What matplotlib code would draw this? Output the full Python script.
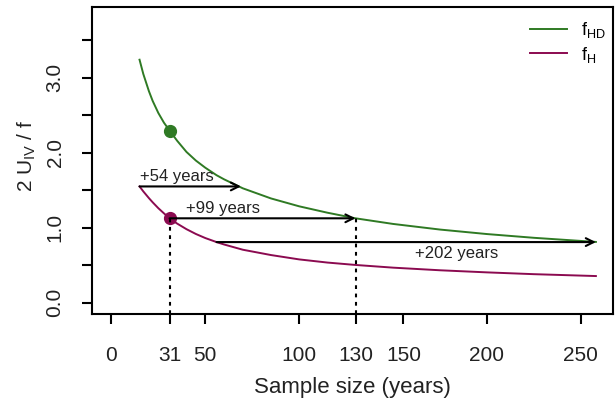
import numpy as np
import matplotlib.pyplot as plt

plt.rcParams['font.family'] = ['Liberation Sans', 'DejaVu Sans']

# values
n_years = [15, 17, 20, 22, 25, 28, 31, 35, 40, 45, 50, 56, 60, 70, 85, 100, 115, 130, 150, 175, 200, 225, 258]
f_hd = [3.24, 3.05, 2.82, 2.69, 2.53, 2.40, 2.295, 2.16, 2.01, 1.895, 1.80, 1.70, 1.645, 1.525, 1.39, 1.285, 1.20, 1.125, 1.05, 0.975, 0.915, 0.865, 0.81]
f_h = [1.55, 1.484, 1.394, 1.338, 1.26, 1.191, 1.125, 1.055, 0.98, 0.916, 0.862, 0.808, 0.776, 0.706, 0.635, 0.577, 0.535, 0.503, 0.467, 0.432, 0.404, 0.38, 0.355]

# highlighted sample size and the three "extra years" arrows
n_mark = 31
hd_mark = 2.295
h_mark = 1.125
arrows = [(15, 69, 1.55, '+54 years'),
          (31, 130, 1.125, '+99 years'),
          (56, 258, 0.808, '+202 years')]
dotted_x = [31, 130]
dotted_top = [1.125, 1.125]

# the "150" tick sits a little right of 150 in the source figure
xtick_pos = [0, 31, 50, 100, 130, 155.5, 200, 250]
xtick_lab = ['0', '31', '50', '100', '130', '150', '200', '250']
yticks = [0, 0.5, 1.0, 1.5, 2.0, 2.5, 3.0, 3.5]
ylab_pos = [0.0, 1.0, 2.0, 3.0]
ylab_txt = ['0.0', '1.0', '2.0', '3.0']

green = '#2f7a24'
red = '#8b0a50'
txt = '#222222'

fig = plt.figure(figsize=(6.16, 3.99), dpi=100)
ax = fig.add_axes([0.1494, 0.2123, 0.8457, 0.7709])

ax.plot(n_years, f_hd, color=green, lw=1.4, label=r'f$\mathregular{_{HD}}$')
ax.plot(n_years, f_h, color=red, lw=1.4, label=r'f$\mathregular{_{H}}$')
ax.plot(n_mark, hd_mark, 'o', color=green, ms=8.5)
ax.plot(n_mark, h_mark, 'o', color=red, ms=8.5)

ymin = -0.155
for x0, top in zip(dotted_x, dotted_top):
    ax.plot([x0, x0], [ymin, top], color='black', lw=1.5, dashes=(1.8, 2.2))

for x0, x1, y, lab in arrows:
    ax.annotate('', xy=(x1, y), xytext=(x0, y),
                arrowprops=dict(arrowstyle='->', color='black', lw=1.5,
                                shrinkA=0, shrinkB=0, mutation_scale=14))

ax.text(15, 1.58, arrows[0][3], fontsize=12, color=txt, ha='left', va='bottom')
ax.text(40, 1.16, arrows[1][3], fontsize=12, color=txt, ha='left', va='bottom')
ax.text(184, 0.66, arrows[2][3], fontsize=12, color=txt, ha='center', va='center')

ax.set_xlim(-10.3, 267.1)
ax.set_ylim(ymin, 3.947)
ax.set_xticks(xtick_pos)
ax.set_xticklabels(xtick_lab)
ax.set_yticks(yticks)
ax.tick_params(axis='both', length=7, width=1.5, labelsize=15, colors='black',
               labelcolor=txt)
ax.tick_params(axis='x', pad=16)
ax.tick_params(axis='y', labelleft=False)
# R-style vertical y tick labels, only on whole numbers
for yv, s in zip(ylab_pos, ylab_txt):
    ax.text(-0.071, yv, s, transform=ax.get_yaxis_transform(), rotation=90,
            ha='center', va='center', fontsize=15, color=txt)
for s in ax.spines.values():
    s.set_linewidth(1.5)

ax.set_xlabel('Sample size (years)', fontsize=16, color=txt, va='center')
ax.xaxis.set_label_coords(0.5, -0.238)
ax.set_ylabel(r'2 U$\mathregular{_{IV}}$ / f', fontsize=15, color=txt,
              va='center', ha='center')
ax.yaxis.set_label_coords(-0.1248, 0.514)

ax.legend(loc='upper right', bbox_to_anchor=(1.0, 0.98), frameon=False,
          fontsize=13, handlelength=2.05, borderaxespad=0.1, borderpad=0.3,
          labelspacing=0.25, handletextpad=0.8)

fig.savefig('out.png', dpi=100)
